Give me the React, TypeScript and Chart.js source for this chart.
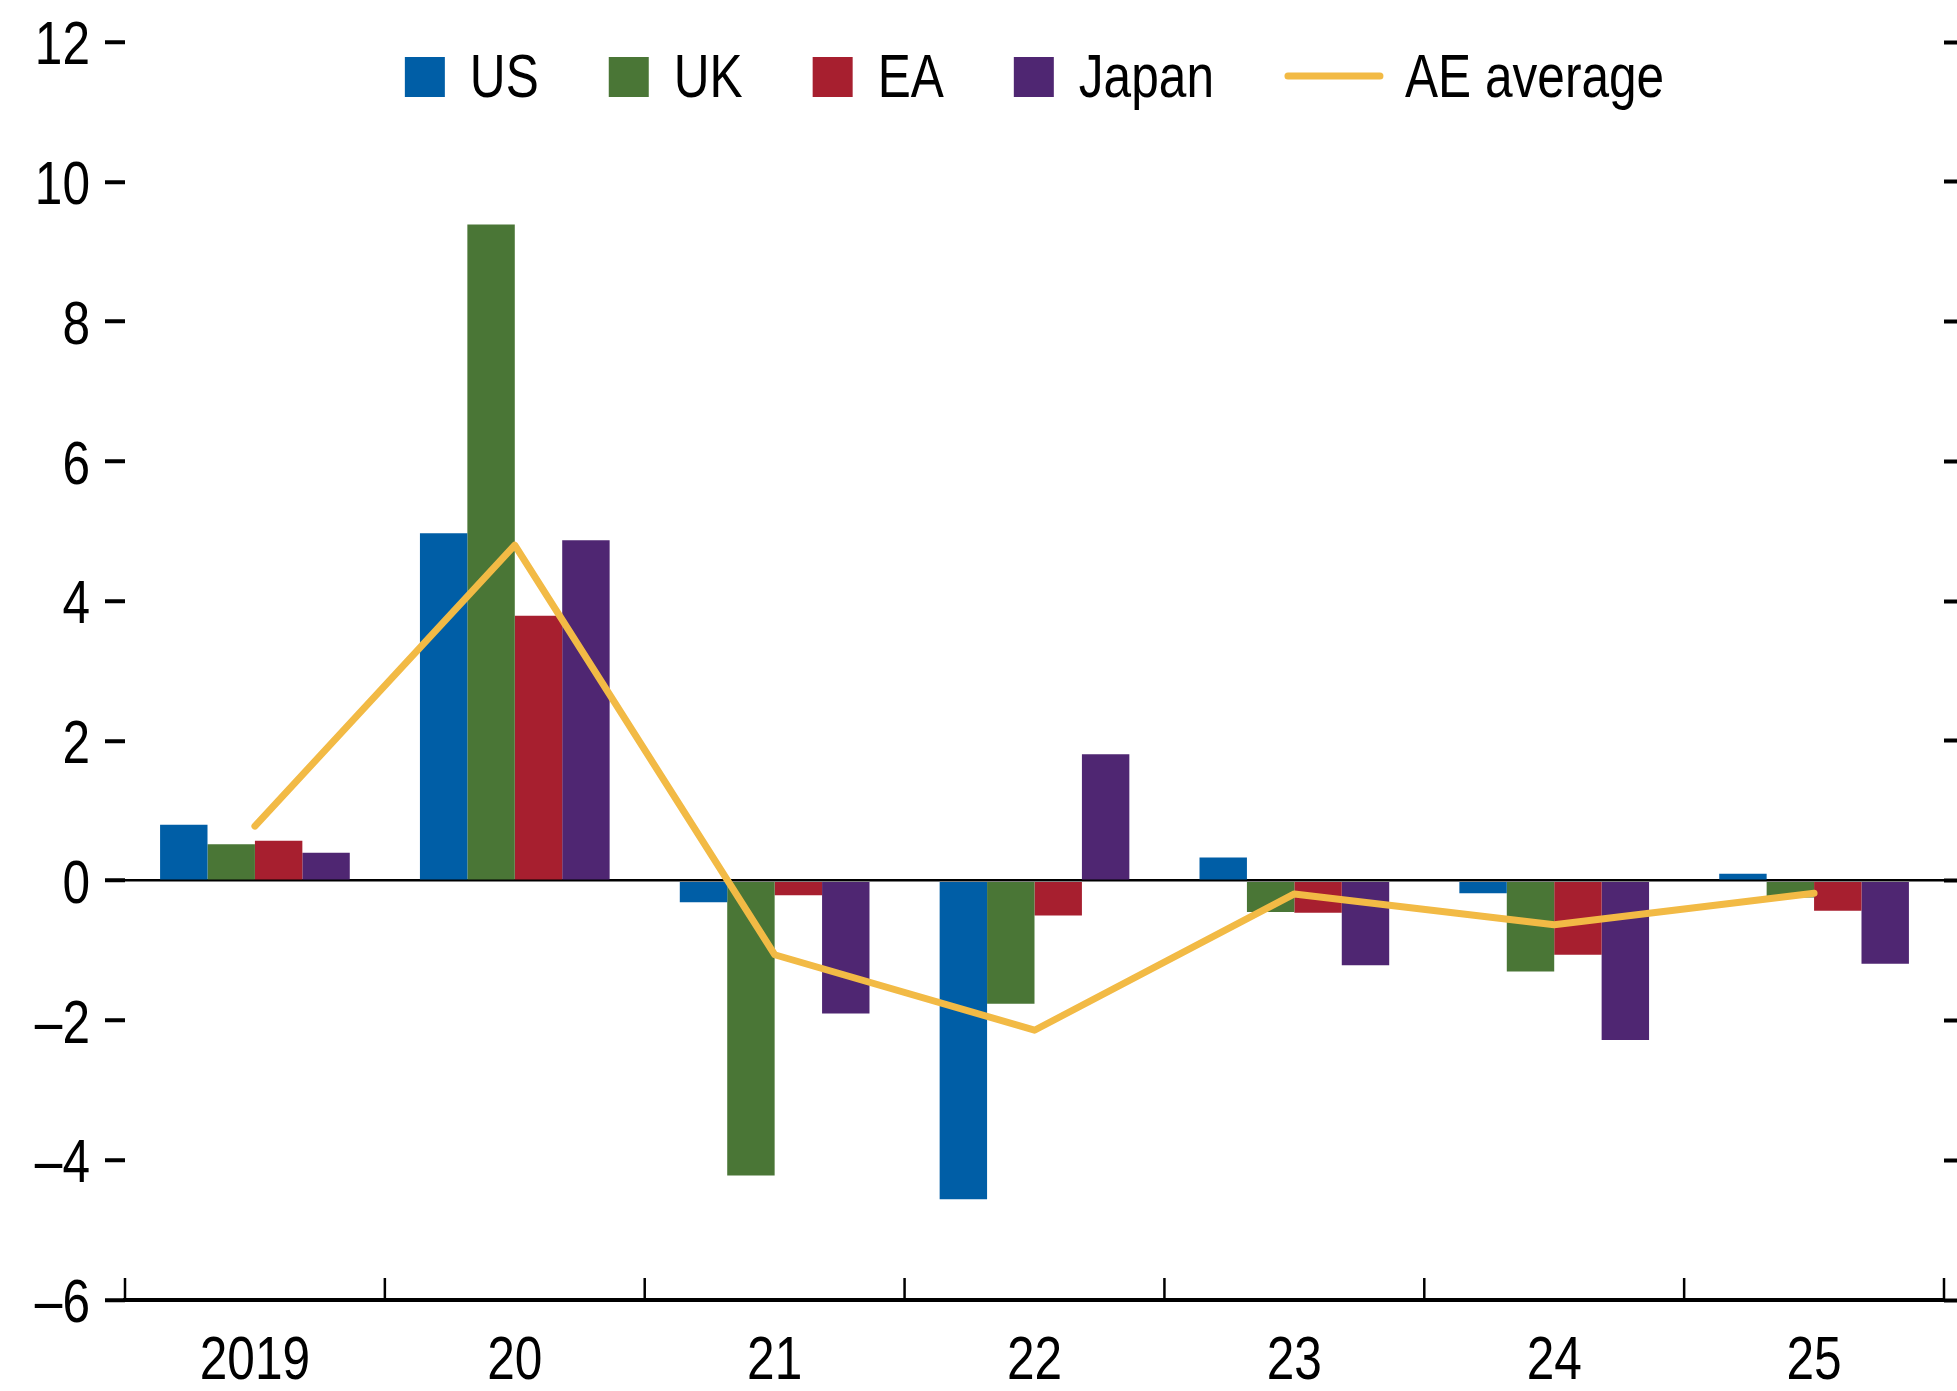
import React, { useEffect, useRef } from 'react';
import { Chart, registerables } from 'chart.js';

Chart.register(...registerables);

// ---- Data ----
const categories = ['2019', '20', '21', '22', '23', '24', '25'];
const usValues = [0.8, 4.97, -0.31, -4.56, 0.33, -0.18, 0.1];
const ukValues = [0.52, 9.39, -4.22, -1.76, -0.45, -1.3, -0.24];
const eaValues = [0.57, 3.79, -0.21, -0.5, -0.46, -1.06, -0.43];
const japanValues = [0.4, 4.87, -1.9, 1.81, -1.21, -2.28, -1.19];
const aeAverage = [0.78, 4.8, -1.06, -2.14, -0.19, -0.63, -0.18];
const seriesLabels = ['US', 'UK', 'EA', 'Japan', 'AE average'];
const yMin = -6;
const yMax = 12;
const yStep = 2;

const FONT = "'Liberation Sans', Arial, sans-serif";
const FONT_SIZE = 62;
const CONDENSE = 0.8;
const CAP = 0.716;

const fmtY = (v: number) => (v < 0 ? '\u2013' + Math.abs(v) : String(v));

function drawCondensed(ctx: CanvasRenderingContext2D, text: string, x: number, y: number, align: CanvasTextAlign) {
  ctx.save();
  ctx.translate(x, y);
  ctx.scale(CONDENSE, 1);
  ctx.textAlign = align;
  ctx.textBaseline = 'alphabetic';
  ctx.fillText(text, 0, 0);
  ctx.restore();
}

const textPlugin = {
  id: 'condensedText',
  afterDraw(chart: any) {
    const ctx: CanvasRenderingContext2D = chart.ctx;
    const area = chart.chartArea;
    const ys = chart.scales.y;
    const xs = chart.scales.x;
    ctx.save();
    ctx.font = `${FONT_SIZE}px ${FONT}`;
    ctx.fillStyle = '#000';

    // y tick labels
    const capOff = (FONT_SIZE * CAP) / 2;
    const yLabelRight = ys.right - 20 - 15;
    for (const t of ys.ticks) {
      const py = ys.getPixelForValue(t.value);
      drawCondensed(ctx, fmtY(t.value), yLabelRight, py + capOff, 'right');
    }

    // x tick labels
    const labels = chart.data.labels as string[];
    labels.forEach((lab, i) => {
      const px = xs.getPixelForValue(i);
      drawCondensed(ctx, lab, px, area.bottom + 79, 'center');
    });

    // legend
    const items = chart.data.datasets.map((ds: any) => {
      const isLine = ds.type === 'line';
      const markW = isLine ? 100 : 40;
      const gap = isLine ? 21 : 25;
      const tw = ctx.measureText(ds.label).width * CONDENSE;
      return { ds, isLine, markW, gap, tw, w: markW + gap + tw };
    });
    const spacing = 70;
    const total = items.reduce((s: number, i: any) => s + i.w, 0) + spacing * (items.length - 1);
    let x = (area.left + area.right) / 2 - total / 2;
    const baseline = area.top + 55;
    for (const it of items) {
      if (it.isLine) {
        ctx.strokeStyle = it.ds.borderColor;
        ctx.lineWidth = 7;
        ctx.lineCap = 'round';
        ctx.beginPath();
        ctx.moveTo(x + 4, baseline - 21);
        ctx.lineTo(x + it.markW - 4, baseline - 21);
        ctx.stroke();
      } else {
        ctx.fillStyle = it.ds.backgroundColor;
        ctx.fillRect(x, baseline - 40, 40, 40);
      }
      ctx.fillStyle = '#000';
      drawCondensed(ctx, it.ds.label, x + it.markW + it.gap, baseline, 'left');
      x += it.w + spacing;
    }
    ctx.restore();
  },
};

const xTickPlugin = {
  id: 'xUpTicks',
  afterDatasetsDraw(chart: any) {
    const ctx = chart.ctx;
    const xs = chart.scales.x;
    const area = chart.chartArea;
    const n = chart.data.labels.length;
    const step = n > 1 ? xs.getPixelForValue(1) - xs.getPixelForValue(0) : xs.width;
    ctx.save();
    ctx.strokeStyle = '#000';
    ctx.lineWidth = 2.5;
    for (let i = 0; i <= n; i++) {
      const px = xs.getPixelForValue(0) - step / 2 + i * step;
      ctx.beginPath();
      ctx.moveTo(px, area.bottom);
      ctx.lineTo(px, area.bottom - 22);
      ctx.stroke();
    }
    ctx.restore();
  },
};

export default function App() {
  const canvasRef = useRef<HTMLCanvasElement | null>(null);

  useEffect(() => {
    if (!canvasRef.current) return;
    Chart.defaults.font.family = FONT;
    Chart.defaults.font.size = FONT_SIZE;
    Chart.defaults.color = '#000';

    const barCommon = {
      type: 'bar' as const,
      borderWidth: 0,
      categoryPercentage: 0.73,
      barPercentage: 1.0,
      order: 1,
    };

    const chart = new Chart(canvasRef.current, {
      type: 'bar',
      data: {
        labels: categories,
        datasets: [
          { ...barCommon, label: seriesLabels[0], data: usValues, backgroundColor: '#005EA6' },
          { ...barCommon, label: seriesLabels[1], data: ukValues, backgroundColor: '#4A7636' },
          { ...barCommon, label: seriesLabels[2], data: eaValues, backgroundColor: '#A71F2F' },
          { ...barCommon, label: seriesLabels[3], data: japanValues, backgroundColor: '#4F2672' },
          {
            type: 'line' as const,
            label: seriesLabels[4],
            data: aeAverage,
            borderColor: '#F2BA45',
            backgroundColor: '#F2BA45',
            borderWidth: 7,
            pointRadius: 0,
            tension: 0,
            borderCapStyle: 'round',
            borderJoinStyle: 'round',
            order: 0,
          } as any,
        ],
      },
      options: {
        responsive: false,
        animation: false,
        layout: { padding: { left: 0, right: 0, top: 42, bottom: 0 } },
        plugins: {
          legend: { display: false },
          tooltip: { enabled: false },
        },
        scales: {
          x: {
            offset: true,
            grid: { display: true, drawOnChartArea: false, drawTicks: false, offset: true },
            border: { display: true, color: '#000', width: 4 },
            ticks: { display: false },
            afterFit: (scale: any) => {
              scale.height = 91;
            },
          },
          y: {
            position: 'left',
            min: yMin,
            max: yMax,
            ticks: { stepSize: yStep, display: false },
            grid: {
              drawOnChartArea: true,
              drawTicks: true,
              tickLength: 20,
              tickWidth: 4,
              tickColor: '#000',
              lineWidth: 2.5,
              color: (c: any) => (c.tick && c.tick.value === 0 ? '#000' : 'rgba(0,0,0,0)'),
            },
            border: { display: false },
            afterFit: (scale: any) => {
              scale.width = 125;
            },
          },
          yRight: {
            position: 'right',
            min: yMin,
            max: yMax,
            ticks: { stepSize: yStep, display: false },
            grid: {
              drawOnChartArea: false,
              drawTicks: true,
              tickLength: 13,
              tickWidth: 4,
              tickColor: '#000',
            },
            border: { display: false },
            afterFit: (scale: any) => {
              scale.width = 13;
            },
          },
        },
      } as any,
      plugins: [xTickPlugin, textPlugin],
    });

    return () => {
      chart.destroy();
    };
  }, []);

  return (
    <div style={{ position: 'absolute', left: 0, top: 0, width: 1957, height: 1391, background: '#fff' }}>
      <canvas ref={canvasRef} width={1957} height={1391} style={{ width: 1957, height: 1391 }} />
    </div>
  );
}
